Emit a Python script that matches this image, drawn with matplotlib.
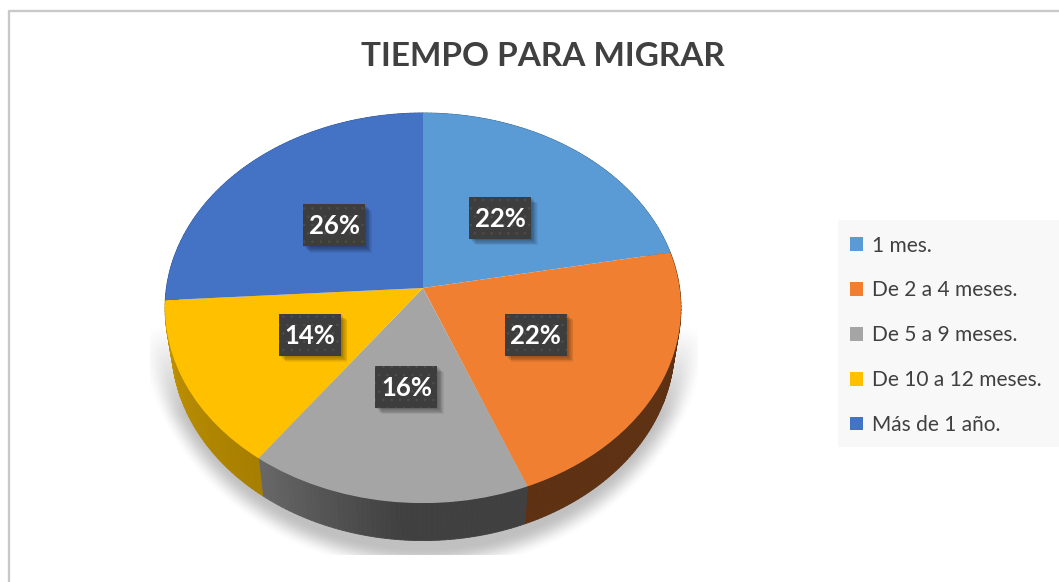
import numpy as np
import matplotlib
matplotlib.use("Agg")
import matplotlib.pyplot as plt
from matplotlib.collections import PolyCollection
from matplotlib.colors import to_rgb
from matplotlib.patches import Patch, Rectangle
from matplotlib.transforms import Transform

title = "TIEMPO PARA MIGRAR"
categories = ["1 mes.", "De 2 a 4 meses.", "De 5 a 9 meses.", "De 10 a 12 meses.", "Más de 1 año."]
values = [22, 22, 16, 14, 26]
colors = ["#5B9BD5", "#F07F31", "#A5A5A5", "#FFC000", "#4472C4"]
side_start = ["#3A6E9E", "#5E3113", "#404040", "#A67E00", "#2F5597"]
side_end = ["#3A6E9E", "#5E3113", "#686868", "#C49400", "#2F5597"]
side_ramp_from = [0.0, 0.0, 0.45, 0.0, 0.0]

CX, CY, RX, RY, K = 423, 288, 256.6, 193, 0.1026
DEPTH, SHRINK = 37.5, 0.975


class Perspective(Transform):
    input_dims = output_dims = 2
    is_separable = False
    has_inverse = False

    def __init__(self, drop=0.0, shrink=1.0):
        super().__init__()
        self.drop, self.shrink = drop, shrink

    def transform_non_affine(self, values):
        v = np.asarray(values, float).reshape(-1, 2)
        w = 1 + K * v[:, 1]
        return np.column_stack((CX + self.shrink * RX * v[:, 0] / w,
                                CY + self.drop - RY * v[:, 1] / w))


plt.rcParams["font.family"] = ["Lato", "DejaVu Sans"]
plt.rcParams["hatch.linewidth"] = 0.5
fig = plt.figure(figsize=(10.59, 5.82), dpi=100, facecolor="white")
ax = fig.add_axes([0, 0, 1, 1])

top = Perspective()
bottom = Perspective(DEPTH, SHRINK)
wedges, _ = ax.pie(values, colors=colors, startangle=90, counterclock=False,
                   wedgeprops=dict(linewidth=0))
ax.set_aspect("auto")
for w in wedges:
    w.set_transform(top + ax.transData)
    w.set_zorder(3)

# chart frame: only top and left edges are inside the crop
ax.plot([8.5, 8.5, 1059], [582, 10.5, 10.5], color="#C9C9C9", lw=1.7, zorder=0)

# soft ground shadow
yy, xx = np.mgrid[0:582, 0:1059]
rho = np.hypot((xx - CX) / 280.0, (yy - 310.0) / 255.0)
a = np.clip((1.03 - rho) / 0.10, 0, 1)
a = a * a * (3 - 2 * a)
a *= np.clip((yy - 325.0) / 90.0, 0, 1)
a[(yy > 554) | (xx < 150) | (xx > 697)] = 0
rgba = np.zeros(a.shape + (4,))
rgba[..., 3] = a * 0.25
ax.imshow(rgba, extent=(0, 1059, 582, 0), aspect="auto", zorder=1, interpolation="bilinear")
ax.set_xlim(0, 1059)
ax.set_ylim(582, 0)
ax.axis("off")

# side wall
fractions = np.cumsum([0] + values) / sum(values)
for i in range(len(values)):
    a0, a1 = 90 - 360 * fractions[i], 90 - 360 * fractions[i + 1]
    th = np.radians(np.linspace(a0, a1, max(int(abs(a1 - a0)), 2) + 1))
    circle = np.column_stack((np.cos(th), np.sin(th)))
    up, lo = top.transform(circle), bottom.transform(circle)
    polys, cols = [], []
    c0, c1 = np.array(to_rgb(side_start[i])), np.array(to_rgb(side_end[i]))
    for j in range(len(th) - 1):
        polys.append([up[j], up[j + 1], lo[j + 1], lo[j]])
        t = (j + 0.5) / (len(th) - 1)
        ramp = np.clip((t - side_ramp_from[i]) / (1 - side_ramp_from[i]), 0, 1)
        cols.append(c0 + (c1 - c0) * ramp)
    ax.add_collection(PolyCollection(polys, facecolors=cols, edgecolors=cols, linewidths=0.6, zorder=2))

# data labels
mids = (fractions[:-1] + fractions[1:]) / 2
for v, f in zip(values, mids):
    th = np.radians(90 - 360 * f)
    px, py = top.transform(np.array([[0.49 * np.cos(th), 0.49 * np.sin(th)]]))[0]
    for g in range(1, 9):
        ax.add_patch(Rectangle((px - 31 + g * 0.8, py - 21 + g * 0.8), 62, 42, facecolor="black",
                               edgecolor="none", alpha=0.055, zorder=4))
    ax.add_patch(Rectangle((px - 31, py - 21), 62, 42, facecolor="#3D3D3D", edgecolor="none", zorder=5))
    ax.add_patch(Rectangle((px - 31, py - 21), 62, 42, facecolor="none", edgecolor="#4E4E4E",
                           hatch="..", linewidth=0, zorder=5))
    ax.text(px, py + 1, f"{v}%", color="white", fontsize=18.5, fontweight="bold",
            ha="center", va="center", zorder=6)

ax.text(543, 56, title, color="#404040", fontsize=24, fontweight="bold", ha="center", va="center", zorder=6)

# legend
ax.add_patch(Rectangle((838, 220), 221, 227, facecolor="#F8F8F8", edgecolor="none", zorder=1))
handles = [Patch(facecolor=c, edgecolor="none") for c in colors]
ax.legend(handles, categories, loc="upper left", bbox_to_anchor=(850, 235.5), bbox_transform=ax.transData,
          frameon=False, fontsize=15, labelcolor="#404040", handlelength=0.624, handleheight=0.624,
          handletextpad=0.41, labelspacing=1.194, borderpad=0, borderaxespad=0)

fig.savefig("out.png", dpi=100, facecolor="white")
